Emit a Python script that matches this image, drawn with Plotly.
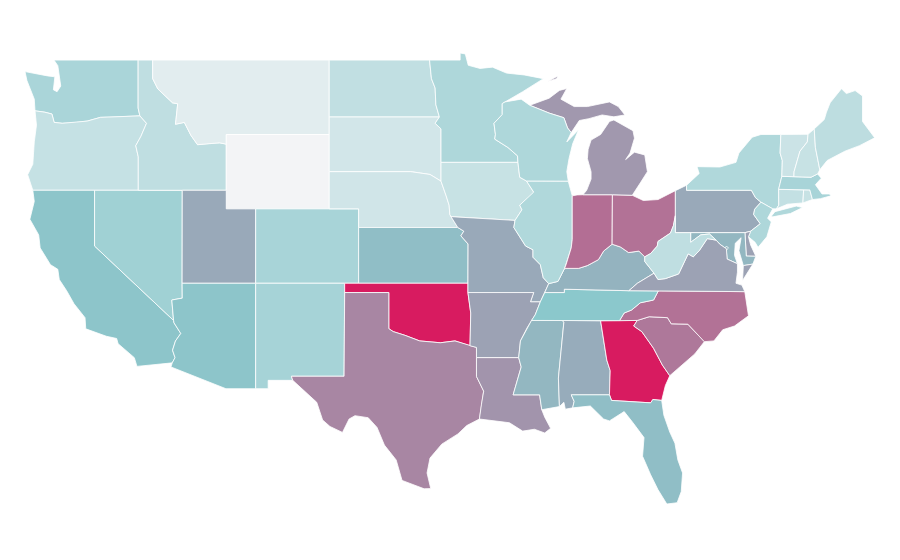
import plotly.graph_objects as go
from plotly.colors import sample_colorscale

# Values (0-100 on the reference's colour ramp)
state_values = {
    "WY":0,"MT":8,"SD":16,"NE":17,"VT":19,"NH":21,"IA":21,"RI":21,"OR":22,"CT":23,"ND":24,"ID":25,"WV":25,
    "ME":26,"IL":32,"NY":32,"MN":33,"WI":33,"NJ":33,"WA":35,"CO":36,"MA":36,"NM":37,"NV":40,"TN":50,"AZ":51,
    "CA":51,"KS":53,"FL":53,"MD":55,"DC":55,"MS":55,"KY":56,"AL":58,"MO":59,"UT":59,"PA":59,"AR":61,"VA":61,
    "DE":61,"MI":64,"LA":65,"TX":69,"SC":73,"NC":75,"OH":75,"IN":76,"GA":100,"OK":100,
}
color_ramp = [[0,"#f3f4f6"],[0.5,"#8bc8cc"],[1,"#d81b60"]]

# Approximate state outlines in lon/lat, hand-written because no boundary file is available offline
outlines = {
"WA":[[(-122.76,49),(-117.04,49),(-117.04,46.42),(-116.92,46),(-119,45.93),(-119.6,45.92),(-120.5,45.72),(-121.2,45.65),(-122.2,45.6),(-122.75,45.65),(-122.9,46.1),(-123.4,46.2),(-124.05,46.27),(-124.1,46.9),(-124.6,47.9),(-124.73,48.38),(-123.2,48.15),(-122.7,48.1),(-122.8,47.4),(-122.55,47.3),(-122.3,47.6),(-122.4,48.2),(-122.5,48.7)]],
"OR":[[(-124.05,46.27),(-123.4,46.2),(-122.9,46.1),(-122.75,45.65),(-122.2,45.6),(-121.2,45.65),(-120.5,45.72),(-119.6,45.92),(-119,45.93),(-116.92,46),(-116.47,45.6),(-116.85,44.9),(-117.2,44.4),(-117.03,43.8),(-117.03,42),(-124.2,42),(-124.55,42.84),(-124.2,43.4),(-124.1,44.6),(-123.95,45.5)]],
"CA":[[(-124.2,42),(-120,42),(-120,39),(-114.63,35),(-114.6,34.87),(-114.14,34.3),(-114.5,33.9),(-114.7,33.4),(-114.53,33),(-114.72,32.72),(-117.12,32.53),(-117.3,33),(-118.4,33.75),(-118.5,34.03),(-119.2,34.15),(-120.6,34.55),(-120.65,35.15),(-121.4,35.9),(-121.9,36.6),(-122.4,37.2),(-122.5,37.75),(-123,38),(-123.7,38.9),(-123.8,39.6),(-124.4,40.44),(-124.1,41.4)]],
"NV":[[(-120,42),(-117.03,42),(-114.04,42),(-114.05,37),(-114.04,36.2),(-114.75,36.1),(-114.63,35),(-120,39)]],
"ID":[[(-117.04,49),(-116.05,49),(-116.05,48),(-115.7,47.45),(-114.7,46.7),(-114.35,46.65),(-114.5,45.55),(-113.9,45.65),(-113.45,44.95),(-113,44.45),(-112,44.53),(-111.5,44.55),(-111.05,44.48),(-111.05,42),(-114.04,42),(-117.03,42),(-117.03,43.8),(-117.2,44.4),(-116.85,44.9),(-116.47,45.6),(-116.92,46),(-117.04,46.42)]],
"MT":[[(-116.05,49),(-104.05,49),(-104.05,45.94),(-104.05,45),(-111.05,45),(-111.05,44.48),(-111.5,44.55),(-112,44.53),(-113,44.45),(-113.45,44.95),(-113.9,45.65),(-114.5,45.55),(-114.35,46.65),(-114.7,46.7),(-115.7,47.45),(-116.05,48)]],
"WY":[[(-111.05,45),(-104.05,45),(-104.05,43),(-104.05,41),(-109.05,41),(-111.05,41),(-111.05,42),(-111.05,44.48)]],
"UT":[[(-114.04,42),(-111.05,42),(-111.05,41),(-109.05,41),(-109.05,37),(-114.05,37)]],
"CO":[[(-109.05,41),(-104.05,41),(-102.05,41),(-102.05,40),(-102.05,37),(-103,37),(-109.05,37)]],
"AZ":[[(-114.05,37),(-109.05,37),(-109.05,31.33),(-111.07,31.33),(-114.81,32.5),(-114.72,32.72),(-114.53,33),(-114.7,33.4),(-114.5,33.9),(-114.14,34.3),(-114.6,34.87),(-114.63,35),(-114.75,36.1),(-114.04,36.2)]],
"NM":[[(-109.05,37),(-103,37),(-103,36.5),(-103.04,32),(-106.62,32),(-106.53,31.78),(-108.2,31.78),(-108.2,31.33),(-109.05,31.33)]],
"ND":[[(-104.05,49),(-97.23,49),(-97.1,48),(-96.85,47.5),(-96.8,46.6),(-96.56,45.94),(-104.05,45.94)]],
"SD":[[(-104.05,45.94),(-96.56,45.94),(-96.85,45.6),(-96.45,45.3),(-96.45,43.5),(-96.45,42.49),(-97.2,42.85),(-98.5,43),(-104.05,43),(-104.05,45)]],
"NE":[[(-104.05,43),(-98.5,43),(-97.2,42.85),(-96.45,42.49),(-96.1,41.7),(-95.9,41.2),(-95.85,40.7),(-95.77,40.58),(-95.31,40),(-102.05,40),(-102.05,41),(-104.05,41)]],
"KS":[[(-102.05,40),(-95.31,40),(-94.9,39.8),(-95.1,39.55),(-94.61,39.11),(-94.62,37),(-102.05,37)]],
"OK":[[(-103,37),(-102.05,37),(-94.62,37),(-94.62,36.5),(-94.43,35.4),(-94.48,33.64),(-95.5,33.9),(-96.5,33.8),(-97.2,33.85),(-97.9,33.9),(-98.9,34.2),(-99.7,34.4),(-100,34.56),(-100,36.5),(-103,36.5)]],
"TX":[[(-103,36.5),(-100,36.5),(-100,34.56),(-99.7,34.4),(-98.9,34.2),(-97.9,33.9),(-97.2,33.85),(-96.5,33.8),(-95.5,33.9),(-94.48,33.64),(-94.04,33.55),(-94.04,33),(-94.04,31.99),(-93.55,31.2),(-93.7,30.5),(-93.84,29.7),(-94.7,29.35),(-95.3,28.9),(-96.4,28.35),(-97.2,27.6),(-97.4,26.8),(-97.15,25.96),(-97.6,25.95),(-99.1,26.4),(-99.5,27.5),(-100.3,28.3),(-100.8,29.25),(-101.4,29.77),(-102.3,29.88),(-102.7,29.7),(-103.15,28.98),(-104,29.3),(-104.5,29.65),(-104.9,30.6),(-106.53,31.78),(-106.62,32),(-103.04,32)]],
"MN":[[(-97.23,49),(-95.15,49),(-95.15,49.38),(-94.8,49.33),(-94.6,48.72),(-93.8,48.55),(-92.95,48.62),(-92,48.3),(-90.8,48.2),(-89.49,48),(-90.9,47.3),(-92.1,46.75),(-92.29,46.66),(-92.29,46.07),(-92.85,45.6),(-92.75,45),(-92.8,44.75),(-91.9,44.3),(-91.25,43.85),(-91.22,43.5),(-96.45,43.5),(-96.45,45.3),(-96.85,45.6),(-96.56,45.94),(-96.8,46.6),(-96.85,47.5),(-97.1,48)]],
"IA":[[(-96.45,43.5),(-91.22,43.5),(-91.1,42.7),(-90.64,42.5),(-90.15,41.9),(-90.3,41.75),(-91.1,41.2),(-90.95,40.95),(-91.42,40.38),(-95.77,40.58),(-95.85,40.7),(-95.9,41.2),(-96.1,41.7),(-96.45,42.49)]],
"MO":[[(-95.77,40.58),(-91.42,40.38),(-91.5,40),(-91,39.4),(-90.7,39),(-90.2,38.8),(-90.2,38.4),(-89.7,38),(-89.5,37.3),(-89.13,36.98),(-89.4,36.5),(-89.7,36),(-90.37,36),(-90.15,36.5),(-94.62,36.5),(-94.62,37),(-94.61,39.11),(-95.1,39.55),(-94.9,39.8),(-95.31,40)]],
"AR":[[(-94.62,36.5),(-90.15,36.5),(-90.37,36),(-89.7,36),(-90.05,35.3),(-90.3,35),(-90.6,34.6),(-91.05,33.9),(-91.17,33),(-94.04,33),(-94.04,33.55),(-94.48,33.64),(-94.43,35.4)]],
"LA":[[(-94.04,33),(-91.17,33),(-91,32.5),(-91.55,31),(-89.75,31),(-89.6,30.2),(-89.4,29.8),(-89,29.2),(-89.4,28.95),(-90.1,29.15),(-90.9,29.05),(-91.8,29.5),(-92.3,29.55),(-93.84,29.7),(-93.7,30.5),(-93.55,31.2),(-94.04,31.99)]],
"MS":[[(-90.3,35),(-88.2,35),(-88.1,34.9),(-88.47,31.9),(-88.4,30.37),(-89.6,30.2),(-89.75,31),(-91.55,31),(-91,32.5),(-91.17,33),(-91.05,33.9),(-90.6,34.6)]],
"AL":[[(-88.2,35),(-85.6,34.98),(-85.18,32.87),(-84.95,32.3),(-85,31),(-87.6,31),(-87.4,30.65),(-87.5,30.3),(-88,30.23),(-88.1,30.6),(-88.4,30.37),(-88.47,31.9),(-88.1,34.9)]],
"GA":[[(-85.6,34.98),(-84.32,34.99),(-83.11,35),(-83.35,34.7),(-82.8,34.4),(-82,33.5),(-81.4,32.6),(-80.9,32.03),(-81.2,31.5),(-81.45,30.7),(-82.05,30.75),(-82.2,30.57),(-84.86,30.7),(-85,31),(-84.95,32.3),(-85.18,32.87)]],
"FL":[[(-87.6,31),(-85,31),(-84.86,30.7),(-82.2,30.57),(-82.05,30.75),(-81.45,30.7),(-81.3,29.9),(-80.9,29),(-80.55,28.4),(-80.35,27.5),(-80.03,26.8),(-80.12,25.8),(-80.4,25.2),(-81.1,25.13),(-81.7,25.9),(-82.2,26.7),(-82.75,27.7),(-82.65,28.7),(-83.4,29.5),(-84,30.1),(-85,29.6),(-85.4,29.7),(-86.3,30.4),(-87.5,30.3),(-87.4,30.65)]],
"SC":[[(-83.11,35),(-82.3,35.2),(-81.05,35.15),(-80.8,34.82),(-79.67,34.8),(-78.55,33.86),(-79.2,33.2),(-79.9,32.7),(-80.9,32.03),(-81.4,32.6),(-82,33.5),(-82.8,34.4),(-83.35,34.7)]],
"NC":[[(-84.32,34.99),(-83.11,35),(-82.3,35.2),(-81.05,35.15),(-80.8,34.82),(-79.67,34.8),(-78.55,33.86),(-77.9,33.9),(-77.3,34.5),(-76.5,34.7),(-75.55,35.25),(-75.8,36.55),(-81.68,36.59),(-82,36.1),(-82.9,35.95),(-83.5,35.56),(-84,35.4)]],
"TN":[[(-90.3,35),(-88.2,35),(-85.6,34.98),(-84.32,34.99),(-84,35.4),(-83.5,35.56),(-82.9,35.95),(-82,36.1),(-81.68,36.59),(-83.68,36.6),(-88.07,36.68),(-88.07,36.5),(-89.4,36.5),(-89.7,36),(-90.05,35.3)]],
"KY":[[(-89.4,36.5),(-88.07,36.5),(-88.07,36.68),(-83.68,36.6),(-83.1,37),(-81.97,37.54),(-82.6,38.17),(-82.6,38.42),(-83,38.73),(-83.7,38.65),(-84.25,38.95),(-84.82,39.1),(-85.4,38.73),(-85.75,38.27),(-86.5,37.95),(-87.1,37.8),(-88.05,37.8),(-88.5,37.1),(-89.13,36.98)]],
"IL":[[(-90.64,42.5),(-87.8,42.49),(-87.53,41.7),(-87.53,39.35),(-87.6,38.9),(-87.95,38),(-88.05,37.8),(-88.5,37.1),(-89.13,36.98),(-89.5,37.3),(-89.7,38),(-90.2,38.4),(-90.2,38.8),(-90.7,39),(-91,39.4),(-91.5,40),(-91.42,40.38),(-90.95,40.95),(-91.1,41.2),(-90.3,41.75),(-90.15,41.9)]],
"IN":[[(-87.53,41.7),(-87.2,41.75),(-86.8,41.76),(-84.8,41.76),(-84.82,39.1),(-85.4,38.73),(-85.75,38.27),(-86.5,37.95),(-87.1,37.8),(-88.05,37.8),(-87.95,38),(-87.6,38.9),(-87.53,39.35)]],
"OH":[[(-84.8,41.76),(-83.45,41.73),(-82.7,41.45),(-81.7,41.5),(-80.52,41.98),(-80.52,40.64),(-80.65,40.1),(-80.85,39.7),(-81.7,39.25),(-81.75,39),(-82.2,38.6),(-82.6,38.42),(-83,38.73),(-83.7,38.65),(-84.25,38.95),(-84.82,39.1)]],
"MI":[[(-84.8,41.76),(-86.8,41.76),(-86.55,42),(-86.25,42.6),(-86.25,43),(-86.5,43.7),(-86.45,44.2),(-86.25,44.7),(-85.6,45),(-85,45.7),(-84.7,45.78),(-83.4,45.2),(-83.3,44.8),(-83.6,44),(-83.9,43.65),(-83.3,44.05),(-82.6,43.9),(-82.42,43),(-82.9,42.4),(-83.15,42.1),(-83.45,41.73)],
      [(-90.42,46.57),(-89.1,46.95),(-88.4,47.37),(-87.9,47.47),(-88.3,46.9),(-87.4,46.5),(-86.5,46.5),(-85,46.75),(-84.4,46.5),(-83.95,46.05),(-84.7,45.95),(-85.5,46.05),(-86.4,45.85),(-87.05,45.75),(-87.6,45.1),(-87.85,45.35),(-88.1,45.9),(-89.1,46.15)],
      [(-89.2,47.85),(-88.5,48.15),(-88.6,48.0)]],
"WI":[[(-92.29,46.66),(-92.1,46.75),(-91,46.9),(-90.42,46.57),(-89.1,46.15),(-88.1,45.9),(-87.85,45.35),(-87.6,45.1),(-87.9,44.6),(-87.1,45.25),(-87.5,44.5),(-87.75,43.7),(-87.9,43),(-87.8,42.49),(-90.64,42.5),(-91.1,42.7),(-91.22,43.5),(-91.25,43.85),(-91.9,44.3),(-92.8,44.75),(-92.75,45),(-92.85,45.6),(-92.29,46.07)]],
"PA":[[(-80.52,41.98),(-79.76,42.27),(-79.76,42),(-75.35,42),(-75.07,41.6),(-74.7,41.36),(-75.13,40.98),(-75.2,40.7),(-74.75,40.2),(-75.4,39.8),(-75.79,39.72),(-79.48,39.72),(-80.52,39.72),(-80.52,40.64)]],
"NY":[[(-79.76,42.27),(-78.9,42.9),(-79.05,43.27),(-77.5,43.25),(-76.4,43.5),(-76.2,44),(-75.3,44.85),(-74.7,45),(-73.35,45),(-73.4,44),(-73.25,43.6),(-73.28,42.75),(-73.5,42.05),(-73.49,41.2),(-73.65,41),(-73.9,41),(-74.7,41.36),(-75.07,41.6),(-75.35,42),(-79.76,42)],
      [(-74,40.6),(-73.75,40.85),(-72.3,41.15),(-71.87,41.07),(-72.7,40.75),(-73.9,40.57)]],
"NJ":[[(-73.9,41),(-74.7,41.36),(-75.13,40.98),(-75.2,40.7),(-74.75,40.2),(-75.4,39.8),(-75.55,39.5),(-75.1,39.2),(-74.9,38.93),(-74.3,39.5),(-74,40.3),(-74.25,40.5)]],
"DE":[[(-75.79,39.72),(-75.4,39.8),(-75.55,39.5),(-75.4,39.05),(-75.05,38.45),(-75.7,38.46)]],
"MD":[[(-79.48,39.72),(-75.79,39.72),(-75.7,38.46),(-75.05,38.45),(-75.25,38.03),(-75.9,37.95),(-76.2,38.75),(-76.05,39.45),(-76.45,39.15),(-76.5,38.5),(-76.3,38.05),(-77,38.3),(-77.05,38.7),(-77.05,38.85),(-77.5,39.1),(-77.75,39.32),(-78.2,39.65),(-78.8,39.6),(-79.48,39.2)]],
"DC":[[(-77.12,38.93),(-77.04,39),(-76.91,38.89),(-77.04,38.79)]],
"VA":[[(-83.68,36.6),(-81.68,36.59),(-75.8,36.55),(-76,36.9),(-76.4,37),(-76.3,37.6),(-76.3,38.05),(-77,38.3),(-77.05,38.7),(-77.05,38.85),(-77.5,39.1),(-77.75,39.32),(-78.35,39.4),(-78.9,38.75),(-79.3,38.42),(-79.65,38.58),(-80.3,37.5),(-81.2,37.25),(-81.7,37.2),(-81.97,37.54),(-83.1,37)],
      [(-75.25,38.03),(-75.9,37.95),(-75.95,37.15),(-75.65,37.5)]],
"WV":[[(-80.52,40.64),(-80.52,39.72),(-79.48,39.72),(-79.48,39.2),(-78.8,39.6),(-78.2,39.65),(-77.75,39.32),(-78.35,39.4),(-78.9,38.75),(-79.3,38.42),(-79.65,38.58),(-80.3,37.5),(-81.2,37.25),(-81.7,37.2),(-81.97,37.54),(-82.6,38.17),(-82.6,38.42),(-82.2,38.6),(-81.75,39),(-81.7,39.25),(-80.85,39.7),(-80.65,40.1)]],
"CT":[[(-73.65,41),(-73.49,41.2),(-73.5,42.05),(-71.8,42.02),(-71.85,41.32),(-72.9,41.25)]],
"RI":[[(-71.8,42.02),(-71.38,42.02),(-71.2,41.5),(-71.85,41.32)]],
"MA":[[(-73.5,42.05),(-73.28,42.75),(-72.46,42.73),(-71.3,42.7),(-70.85,42.88),(-70.6,42.65),(-71,42.3),(-70.55,41.8),(-70,41.8),(-70.25,42.07),(-69.95,41.7),(-70.65,41.55),(-71.2,41.5),(-71.38,42.02),(-71.8,42.02)]],
"VT":[[(-73.35,45),(-71.5,45.01),(-71.55,44.6),(-72.05,44.1),(-72.45,43),(-72.46,42.73),(-73.28,42.75),(-73.25,43.6),(-73.4,44)]],
"NH":[[(-71.5,45.01),(-71.08,45.3),(-71,44.3),(-70.7,43.1),(-70.85,42.88),(-71.3,42.7),(-72.46,42.73),(-72.45,43),(-72.05,44.1),(-71.55,44.6)]],
"ME":[[(-71.08,45.3),(-70.4,45.8),(-70.25,46.2),(-70,46.7),(-69.23,47.46),(-68.9,47.2),(-68.3,47.36),(-67.8,47.07),(-67.8,45.7),(-67.45,45.3),(-66.97,44.82),(-68,44.4),(-69,44.1),(-70.2,43.6),(-70.7,43.1),(-71,44.3)]],
}

# Visible window of the map, in degrees of longitude and latitude
lon_window = [-125.886, -64.706]
lat_window = [21.69, 51.80]

fig = go.Figure()
for code, rings in outlines.items():
    lons, lats = [], []
    for ring in rings:
        closed = ring + ring[:1]
        lons += [p[0] for p in closed] + [None]
        lats += [p[1] for p in closed] + [None]
    fill = sample_colorscale(color_ramp, [state_values[code]/100])[0]
    fig.add_trace(go.Scatter(x=lons[:-1], y=lats[:-1], mode="lines", fill="toself", fillcolor=fill,
        line=dict(color="white", width=0.8), name=code, hoverinfo="name", showlegend=False))

fig.update_xaxes(visible=False, range=lon_window, fixedrange=True)
fig.update_yaxes(visible=False, range=lat_window, fixedrange=True)
fig.update_layout(width=900, height=560, margin=dict(l=0,r=0,t=0,b=0), paper_bgcolor="white", plot_bgcolor="white")
fig.write_html("out.html")
